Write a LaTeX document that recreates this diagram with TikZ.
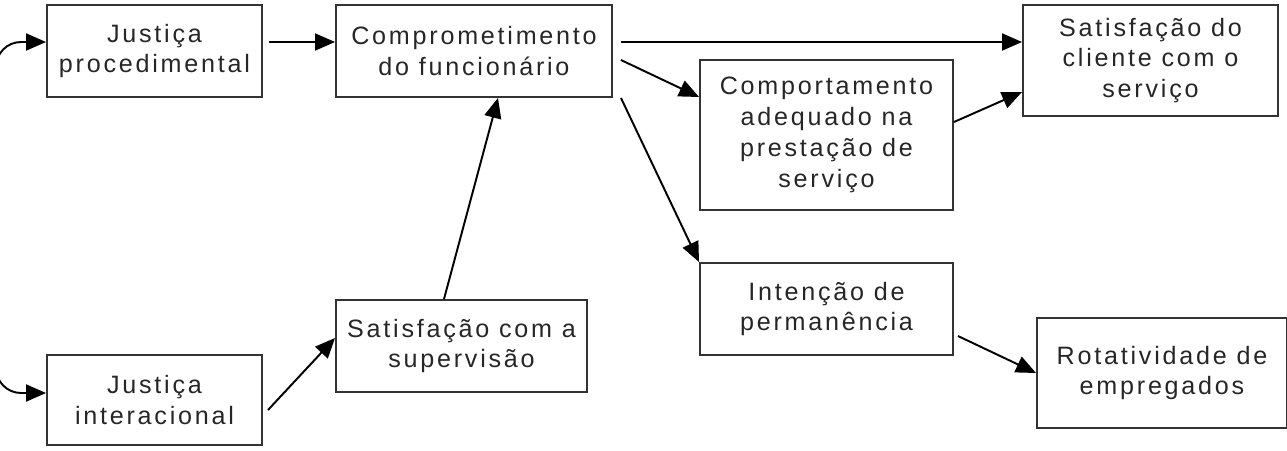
\documentclass[tikz,border=0pt]{standalone}
\usepackage{fontspec}
\setmainfont{Liberation Sans}[LetterSpace=11]
\usetikzlibrary{arrows.meta}

\begin{document}
\begin{tikzpicture}[->,>={Triangle[length=0.4cm,width=0.34cm]},line width=1.1pt,
                    every node/.style={font=\fontsize{14.3}{17.6}\selectfont,text=black!85},
                    bloco/.style={draw=black!80,align=center,minimum height=1.84cm,
                                  inner sep=0pt}]
  \useasboundingbox (0,0) rectangle (25.74,-9.0);
 % \tikzstyle{every node}=[fill=gray!10]

  \node[bloco,minimum width=4.3cm]  (A) at (3.09,-1.02)  {Justiça\\procedimental};
  \node[bloco,minimum width=5.52cm] (B) at (9.48,-1.02)  {Comprometimento\\do funcionário};
  \node[bloco,minimum width=5.1cm,minimum height=2.22cm]
                                    (C) at (23.01,-1.21) {Satisfação do\\cliente com o\\serviço};
  \node[bloco,minimum width=5.06cm,minimum height=3.0cm]
                                    (D) at (16.53,-2.7)  {Comportamento\\adequado na\\prestação de\\serviço};
  \node[bloco,minimum width=5.06cm] (E) at (16.53,-6.18) {Intenção de\\permanência};
  \node[bloco,minimum width=5.0cm,minimum height=2.2cm]
                                    (F) at (23.24,-7.46) {Rotatividade de\\empregados};
  \node[bloco,minimum width=5.02cm] (G) at (9.23,-6.92)  {Satisfação com a\\supervisão};
  \node[bloco,minimum width=4.3cm,minimum height=1.8cm]
                                    (H) at (3.09,-8.0)   {Justiça\\interacional};

  \path ([yshift=0.18cm,xshift=0.12cm]A.east)  edge ([yshift=0.18cm]B.west);
  \path ([yshift=0.18cm,xshift=0.16cm]B.east)  edge ([yshift=0.37cm]C.west);
  \path ([yshift=-0.18cm,xshift=0.16cm]B.east) edge ([yshift=0.76cm]D.west);
  \path ([xshift=0.16cm]B.south east)          edge (E.north west);
  \path ([yshift=0.26cm]D.east)                edge ([yshift=-0.63cm]C.west);
  \path ([xshift=-0.35cm]G.north)              edge ([xshift=0.48cm]B.south);
  \path ([yshift=-0.2cm,xshift=0.1cm]H.east)   edge ([yshift=0.16cm]G.west);
  \path ([yshift=-0.54cm,xshift=0.08cm]E.east) edge (F.west);

  % ligacao entre as duas justicas
  \draw[<->,rounded corners=0.5cm] ([yshift=0.18cm]A.west) -- ++(-1.0cm,0)
        |- ([yshift=0.14cm]H.west);
\end{tikzpicture}
\end{document}
